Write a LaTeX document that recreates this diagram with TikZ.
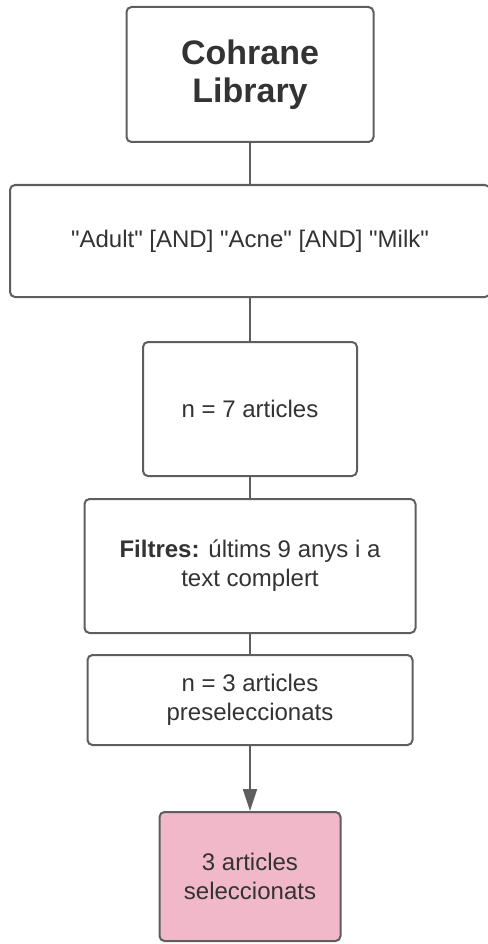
\documentclass[tikz,border=0pt]{standalone}
\usepackage{fontspec}
\setmainfont{Liberation Sans}[Ligatures=TeXOff]
\usepackage{tikz}
\usetikzlibrary{arrows.meta}
\definecolor{linegray}{HTML}{5E5E5E}
\definecolor{textgray}{HTML}{333333}
\definecolor{pinkfill}{HTML}{F0B8C9}
\tikzstyle{flow}=[x=1pt, y=-1pt, line width=2pt, draw=linegray, text=textgray]
\tikzstyle{box}=[rectangle, rounded corners=5pt, draw=linegray, line width=2pt, fill=white, align=center, inner sep=0pt, font=\fontsize{24}{29}\selectfont]
\tikzstyle{title}=[box, font=\fontsize{34}{38}\selectfont\bfseries]
\tikzstyle{res}=[box, fill=pinkfill]
\tikzstyle{edge}=[-, draw=linegray, line width=2pt]
\tikzstyle{arr}=[-{Triangle[length=22pt, width=14pt]}, draw=linegray, fill=linegray, line width=2pt]

\begin{document}
\begin{tikzpicture}[flow]
	\useasboundingbox (0,0) rectangle (487,944);
	\draw (250,74.5) node[title, minimum width=247pt, minimum height=135pt] (lib) {Cohrane\\Library};
	\draw (250,241) node[box, minimum width=480pt, minimum height=112pt] (query) {"Adult" [AND] "Acne" [AND] "Milk"};
	\draw (250,409) node[box, minimum width=214pt, minimum height=134pt] (n7) {n = 7 articles};
	\draw (250,566) node[box, minimum width=331pt, minimum height=134pt] (filt) {\textbf{Filtres:} últims 9 anys i a\\text complert};
	\draw (250,700) node[box, minimum width=325pt, minimum height=90pt] (n3) {n = 3 articles\\preseleccionats};
	\draw (250,876.5) node[res, minimum width=181pt, minimum height=129pt] (sel) {3 articles\\seleccionats};
	\draw[edge] (lib) -- (query);
	\draw[edge] (query) -- (n7);
	\draw[edge] (n7) -- (filt);
	\draw[edge] (filt) -- (n3);
	\draw[arr] (n3) -- (sel);
\end{tikzpicture}
\end{document}
